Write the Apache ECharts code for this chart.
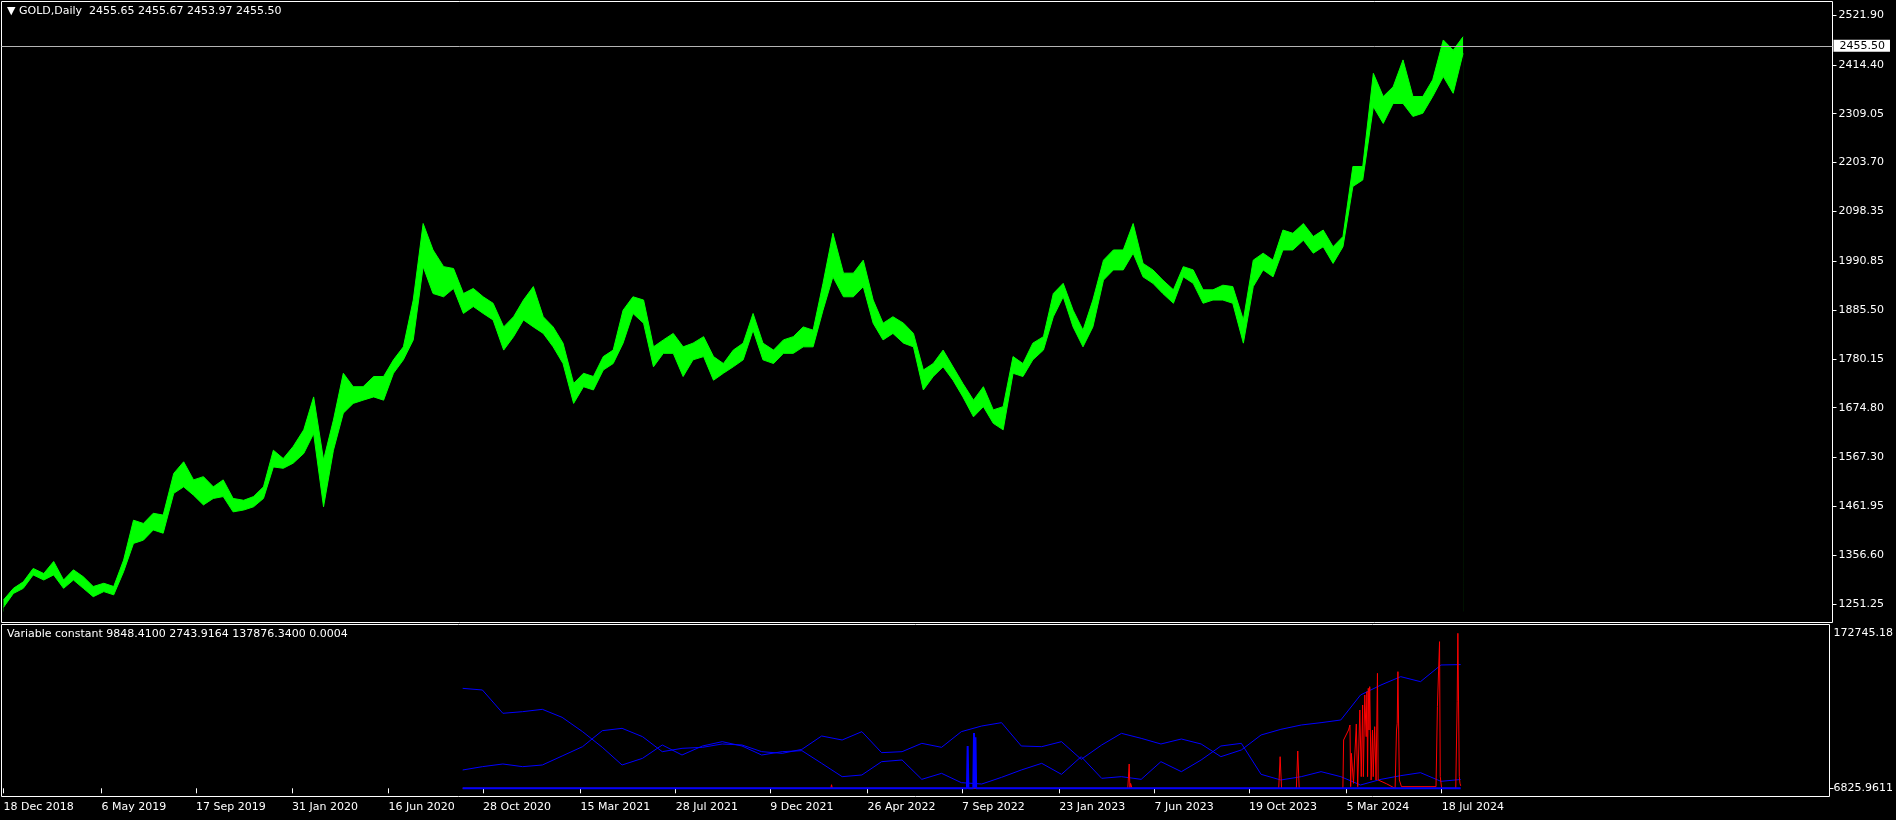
<!DOCTYPE html>
<html><head><meta charset="utf-8">
<script src="https://cdn.jsdelivr.net/npm/echarts@6/dist/echarts.min.js"></script>
<style>html,body{margin:0;padding:0;background:#000;}#c{width:1896px;height:820px;}</style>
</head><body><div id="c"></div>
<script>
// ---------- DATA ----------
const dates = ['2018-12-18','2019-01-01','2019-01-15','2019-01-29','2019-02-13','2019-02-27','2019-03-13','2019-03-27','2019-04-10','2019-04-24',
'2019-05-09','2019-05-23','2019-06-06','2019-06-20','2019-07-04','2019-07-18','2019-08-01','2019-08-16','2019-08-30','2019-09-13',
'2019-09-27','2019-10-11','2019-10-25','2019-11-08','2019-11-23','2019-12-07','2019-12-21','2020-01-04','2020-01-18','2020-02-01',
'2020-02-16','2020-03-01','2020-03-15','2020-03-29','2020-04-12','2020-04-26','2020-05-10','2020-05-25','2020-06-08','2020-06-22',
'2020-07-06','2020-07-20','2020-08-03','2020-08-17','2020-09-01','2020-09-15','2020-09-29','2020-10-13','2020-10-27','2020-11-10',
'2020-11-25','2020-12-09','2020-12-23','2021-01-06','2021-01-20','2021-02-03','2021-02-17','2021-03-04','2021-03-18','2021-04-01',
'2021-04-15','2021-04-29','2021-05-13','2021-05-27','2021-06-11','2021-06-25','2021-07-09','2021-07-23','2021-08-06','2021-08-20',
'2021-09-04','2021-09-18','2021-10-02','2021-10-16','2021-10-30','2021-11-13','2021-11-27','2021-12-12','2021-12-26','2022-01-09',
'2022-01-23','2022-02-06','2022-02-20','2022-03-06','2022-03-21','2022-04-04','2022-04-18','2022-05-02','2022-05-16','2022-05-30',
'2022-06-14','2022-06-28','2022-07-12','2022-07-26','2022-08-09','2022-08-23','2022-09-06','2022-09-21','2022-10-05','2022-10-19',
'2022-11-02','2022-11-16','2022-11-30','2022-12-14','2022-12-29','2023-01-12','2023-01-26','2023-02-09','2023-02-23','2023-03-09',
'2023-03-24','2023-04-07','2023-04-21','2023-05-05','2023-05-19','2023-06-02','2023-06-16','2023-07-01','2023-07-15','2023-07-29',
'2023-08-12','2023-08-26','2023-09-09','2023-09-23','2023-10-08','2023-10-22','2023-11-05','2023-11-19','2023-12-03','2023-12-17',
'2024-01-01','2024-01-15','2024-01-29','2024-02-12','2024-02-26','2024-03-11','2024-03-25','2024-04-09','2024-04-23','2024-05-07',
'2024-05-21','2024-06-04','2024-06-18','2024-07-02','2024-07-17','2024-07-31','2024-08-14'];

const lows = [1244,1274,1285,1314,1303,1314,1285,1303,1285,1267,
1278,1271,1321,1382,1389,1411,1404,1490,1504,1486,
1465,1479,1483,1450,1454,1461,1479,1547,1544,1555,
1576,1619,1461,1583,1663,1684,1691,1698,1691,1749,
1778,1821,1979,1921,1914,1932,1878,1893,1878,1864,
1799,1828,1864,1849,1835,1806,1770,1684,1720,1713,
1756,1770,1814,1878,1857,1763,1792,1792,1742,1778,
1785,1734,1749,1763,1778,1842,1778,1770,1792,1792,
1806,1806,1885,1957,1914,1914,1936,1857,1821,1835,
1814,1806,1713,1742,1763,1734,1698,1655,1677,1641,
1627,1749,1742,1778,1799,1871,1914,1849,1806,1849,
1950,1972,1972,2008,1957,1943,1921,1900,1957,1943,
1900,1907,1907,1900,1814,1936,1972,1957,2015,2015,
2036,2008,2022,1986,2022,2152,2166,2324,2288,2331,
2331,2303,2310,2346,2389,2353,2439];

const highs = [1260,1285,1299,1328,1317,1343,1303,1325,1310,1289,
1296,1289,1346,1432,1425,1447,1443,1533,1558,1519,
1526,1504,1519,1479,1475,1483,1504,1583,1565,1591,
1627,1698,1562,1648,1749,1720,1720,1742,1742,1778,
1806,1907,2072,2015,1979,1975,1921,1932,1914,1900,
1849,1871,1907,1936,1871,1849,1814,1727,1749,1742,
1785,1799,1885,1914,1907,1806,1821,1835,1806,1814,
1828,1785,1770,1799,1814,1878,1814,1799,1821,1828,
1849,1842,1943,2051,1965,1965,1993,1907,1857,1871,
1857,1835,1756,1770,1799,1763,1727,1691,1720,1670,
1677,1785,1770,1814,1828,1921,1943,1885,1842,1907,
1993,2015,2015,2072,1986,1972,1950,1929,1979,1972,
1929,1929,1939,1936,1864,1993,2008,1993,2058,2051,
2072,2044,2058,2022,2044,2195,2195,2396,2346,2367,
2425,2346,2346,2382,2468,2446,2475];

const lastQuote = [2455.65, 2455.67, 2453.97, 2455.50]; // open high low close
const priceTicks = [1251.25,1356.60,1461.95,1567.30,1674.80,1780.15,1885.50,1990.85,2098.35,2203.70,2309.05,2414.40,2521.90];

const dateTickDays = ['2018-12-18','2019-05-06','2019-09-17','2020-01-31','2020-06-16','2020-10-28','2021-03-15','2021-07-28',
'2021-12-09','2022-04-26','2022-09-07','2023-01-23','2023-06-07','2023-10-19','2024-03-05','2024-07-18'];
const dateTickLabels = ['18 Dec 2018','6 May 2019','17 Sep 2019','31 Jan 2020','16 Jun 2020','28 Oct 2020','15 Mar 2021','28 Jul 2021',
'9 Dec 2021','26 Apr 2022','7 Sep 2022','23 Jan 2023','7 Jun 2023','19 Oct 2023','5 Mar 2024','18 Jul 2024'];

// indicator: two blue lines sampled every second price date starting 2020-09-29
const blueA = [111415,109557,83588,85407,88008,79093,63117,45658,25968,33399,
48258,37112,47144,51973,47144,37112,40827,41942,27825,12965,
14823,29683,31541,9993,16680,6278,4792,12223,20396,27825,
15566,35255,11108,12965,9993,29683,18537,31541,47144,50115,
15566,9250,12965,18537,12965,3678,9993,14079,17423,7764,9848.41];
const blueB = [20396,24111,27083,24111,25968,36000,46401,64232,66833,57546,
40827,44541,45658,49373,48258,40827,38969,43427,58289,53830,
63117,39712,40827,50115,45658,63117,69434,73149,47144,46401,
51973,32284,48258,61260,55688,49373,54945,49373,35255,42686,
59402,65720,70551,73149,76121,103984,115129,124416,118844,137423,137876.34];

const redDates = ['2020-09-29','2022-03-05','2022-03-06','2022-03-07','2023-04-30','2023-05-02','2023-05-03','2023-05-04','2023-05-06','2023-11-30',
'2023-12-02','2023-12-04','2023-12-25','2023-12-27','2023-12-29','2024-02-29','2024-03-01','2024-03-08','2024-03-10','2024-03-11',
'2024-03-12','2024-03-15','2024-03-19','2024-03-21','2024-03-24','2024-03-26','2024-03-28','2024-03-29','2024-03-31','2024-04-02',
'2024-04-03','2024-04-04','2024-04-05','2024-04-06','2024-04-07','2024-04-09','2024-04-11','2024-04-12','2024-04-14','2024-04-16',
'2024-04-18','2024-04-19','2024-05-01','2024-05-13','2024-05-15','2024-05-16','2024-05-17','2024-05-19','2024-05-22','2024-07-10',
'2024-07-12','2024-07-15','2024-07-16','2024-07-18','2024-08-07','2024-08-09','2024-08-10','2024-08-12','2024-08-13','2024-08-14'];
const redValues = [0,0,4000,0,0,27083,0,5500,0,0,
35218,0,0,41540,0,0,53830,64975,70551,1820,
38969,5535,71666,1820,87265,12965,92837,12965,103984,57546,
107698,12965,111415,64975,113277,9250,64975,12965,68690,9250,
128133,9250,5000,0,64975,72443,129987,9250,1820,1820,
90979,163425,12965,0,0,96551,172745.18,12965,5535,2743.9164];

const flatDates = ['2020-09-29','2022-09-14','2022-09-15','2022-09-16','2022-09-23','2022-09-24','2022-09-25','2022-09-26','2022-09-27','2024-08-14'];
const flatValues = [0.0004,0.0004,47144,0.0004,0.0004,61557,0.0004,57000,0.0004,0.0004];

const indLegend = [9848.41, 2743.9164, 137876.34, 0.0004];
const indTicks = [172745.18, 0];
const indTickLabels = ['172745.18', '6825.9611'];

// ---------- HELPERS ----------
const FONT = 'DejaVu Sans';
function ts(s){ const p = s.split('-').map(Number); return new Date(p[0], p[1]-1, p[2]).getTime(); }
const DAY = 864e5;
const PX_DAYS = 1.41548;
const xMin = ts('2018-12-18') - 2.0 * PX_DAYS * DAY;
const xMax = xMin + 1831 * PX_DAYS * DAY;
const dateTickTimes = dateTickDays.map(ts);

const lowData = dates.map((d, i) => [ts(d), lows[i]]);
const highData = dates.map((d, i) => [ts(d), highs[i]]);
const indDates = dates.filter((d, k) => k >= 46 && (k - 46) % 2 === 0);
const aData = indDates.map((d, i) => [ts(d), blueA[i]]);
const bData = indDates.map((d, i) => [ts(d), blueB[i]]);
const redData = redDates.map((d, i) => [ts(d), redValues[i]]);
const flatData = flatDates.map((d, i) => [ts(d), flatValues[i]]);

const chart = echarts.init(document.getElementById('c'), null, {renderer: 'canvas'});
const txt = {color: '#fff', fontFamily: FONT, fontSize: 11, fontWeight: 'normal'};

chart.setOption({
  animation: false,
  backgroundColor: '#000',
  title: [
    {text: '▼ GOLD,Daily  ' + lastQuote.map(v => v.toFixed(2)).join(' '), left: 7, top: 6, padding: 0, textStyle: txt},
    {text: 'Variable constant ' + indLegend.map(v => v.toFixed(4)).join(' '), left: 7, top: 629, padding: 0, textStyle: txt}
  ],
  grid: [
    {left: 1.5, top: 1.5, width: 1831, height: 621, show: true, borderColor: '#fff', borderWidth: 1, backgroundColor: '#000'},
    {left: 1.5, top: 624.5, width: 1831, height: 172, show: true, borderColor: '#fff', borderWidth: 1, backgroundColor: '#000'}
  ],
  xAxis: [
    {type: 'value', gridIndex: 0, min: xMin, max: xMax, show: false},
    {type: 'value', gridIndex: 1, min: xMin, max: xMax,
      axisLine: {show: false}, splitLine: {show: false},
      axisTick: {show: true, customValues: dateTickTimes, length: 5, lineStyle: {color: '#fff', width: 1}},
      axisLabel: {customValues: dateTickTimes, color: '#fff', fontFamily: FONT, fontSize: 11, align: 'left', margin: 5,
        formatter: v => { const i = dateTickTimes.indexOf(v); return i >= 0 ? dateTickLabels[i] : ''; }}}
  ],
  yAxis: [
    {type: 'value', gridIndex: 0, position: 'right', min: 1211.34, max: 2551.02,
      axisLine: {show: false}, splitLine: {show: false},
      axisTick: {show: true, customValues: priceTicks, length: 4, lineStyle: {color: '#fff'}},
      axisLabel: {customValues: priceTicks, color: '#fff', fontFamily: FONT, fontSize: 11, margin: 6,
        formatter: v => Number(v).toFixed(2)}},
    {type: 'value', gridIndex: 1, position: 'right', min: -9139, max: 182552,
      axisLine: {show: false}, splitLine: {show: false},
      axisTick: {show: true, customValues: [0], length: 4, lineStyle: {color: '#fff'}},
      axisLabel: {customValues: indTicks, color: '#fff', fontFamily: FONT, fontSize: 11, margin: 4,
        formatter: v => { const i = indTicks.indexOf(v); return i >= 0 ? indTickLabels[i] : ''; }}}
  ],
  series: [
    // high edge, green fill down to a fixed origin
    {type: 'line', name: 'high', xAxisIndex: 0, yAxisIndex: 0, data: highData, symbol: 'none', z: 2,
      lineStyle: {color: '#00ff00', width: 1}, areaStyle: {color: '#00ff00', opacity: 1, origin: 1235}},
    // low edge, black fill reaching further down so only the high-low band stays green
    {type: 'line', name: 'low', xAxisIndex: 0, yAxisIndex: 0, data: lowData, symbol: 'none', z: 3,
      lineStyle: {color: '#00ff00', width: 1}, areaStyle: {color: '#000', opacity: 1, origin: 1222}},
    // current price line
    {type: 'line', name: 'last', xAxisIndex: 0, yAxisIndex: 0, data: [], z: 5,
      markLine: {symbol: 'none', silent: true, animation: false,
        lineStyle: {color: '#b4b4b4', width: 1, type: 'solid'},
        label: {show: true, position: 'end', distance: 1, backgroundColor: '#fff', color: '#000', fontFamily: FONT, fontSize: 11,
          padding: [1, 5, 0, 6], formatter: p => Number(p.value).toFixed(2)},
        data: [{yAxis: lastQuote[3]}]}},
    {type: 'line', name: 'A', xAxisIndex: 1, yAxisIndex: 1, data: aData, symbol: 'none', lineStyle: {color: '#0000ff', width: 1}},
    {type: 'line', name: 'B', xAxisIndex: 1, yAxisIndex: 1, data: bData, symbol: 'none', lineStyle: {color: '#0000ff', width: 1}},
    {type: 'line', name: 'red', xAxisIndex: 1, yAxisIndex: 1, data: redData, symbol: 'none', lineStyle: {color: '#ff0000', width: 1}},
    {type: 'line', name: 'flat', xAxisIndex: 1, yAxisIndex: 1, data: flatData, symbol: 'none', lineStyle: {color: '#0000ff', width: 2}}
  ]
});
</script>
</body></html>
